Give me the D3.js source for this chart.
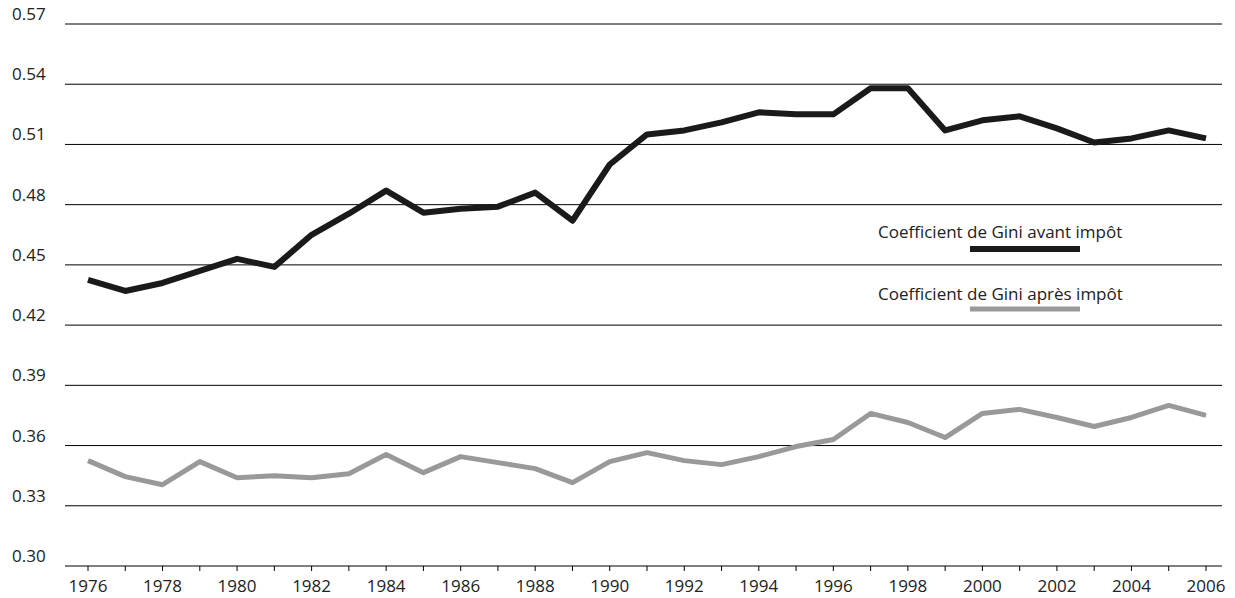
<!DOCTYPE html>
<html><head><meta charset="utf-8">
<script src="https://cdn.jsdelivr.net/npm/d3@7"></script>
<style>body{margin:0;background:#fff}text{font-family:"Open Sans",sans-serif}</style>
</head><body>
<svg id="chart" width="1235" height="598"></svg>
<script>
var years = d3.range(1976, 2007);
var giniAvant = [0.4425,0.437,0.441,0.447,0.453,0.449,0.465,0.4755,0.487,0.476,0.478,0.479,0.486,0.472,0.500,0.515,0.517,0.521,0.526,0.525,0.525,0.538,0.538,0.517,0.522,0.524,0.518,0.511,0.513,0.517,0.513];
var giniApres = [0.3525,0.3445,0.3405,0.352,0.344,0.345,0.344,0.346,0.3555,0.3465,0.3545,0.3515,0.3485,0.3415,0.352,0.3565,0.3525,0.3505,0.3545,0.3595,0.363,0.376,0.3715,0.364,0.376,0.378,0.374,0.3695,0.374,0.380,0.375];
var yTicks = [0.30,0.33,0.36,0.39,0.42,0.45,0.48,0.51,0.54,0.57];
var xTicks = d3.range(1976, 2007, 2);

var svg = d3.select('#chart');
var x = d3.scaleLinear().domain([1976, 2006]).range([88, 1206]);
var y = d3.scaleLinear().domain([0.30, 0.57]).range([566, 24]);

// grid
svg.selectAll('.grid').data(yTicks).enter().append('line')
  .attr('x1', 65).attr('x2', 1222)
  .attr('y1', d => y(d)).attr('y2', d => y(d))
  .attr('stroke', '#000').attr('stroke-width', 1);
svg.selectAll('.yl').data(yTicks).enter().append('text')
  .attr('x', 12).attr('y', d => y(d) - 4)
  .attr('font-size', 17).attr('fill', '#222')
  .text(d => d.toFixed(2));

// x ticks
svg.selectAll('.xt').data(years).enter().append('line')
  .attr('x1', d => x(d)).attr('x2', d => x(d))
  .attr('y1', 566).attr('y2', 571).attr('stroke', '#000');
svg.selectAll('.xl').data(xTicks).enter().append('text')
  .attr('x', d => x(d)).attr('y', 592).attr('text-anchor', 'middle')
  .attr('font-size', 17).attr('fill', '#222').text(d => d);

var line = d3.line().x((d, i) => x(years[i])).y(d => y(d));
svg.append('path').datum(giniApres).attr('d', line)
  .attr('fill', 'none').attr('stroke', '#999').attr('stroke-width', 5).attr('stroke-linejoin', 'round');
svg.append('path').datum(giniAvant).attr('d', line)
  .attr('fill', 'none').attr('stroke', '#1a1a1a').attr('stroke-width', 6).attr('stroke-linejoin', 'round');

// legend
var legend = [
  {label: 'Coefficient de Gini avant impôt', color: '#1a1a1a', ty: 238, ly: 249, w: 6},
  {label: 'Coefficient de Gini après impôt', color: '#999', ty: 300, ly: 309, w: 5}
];
legend.forEach(function(l) {
  svg.append('text').attr('x', 878).attr('y', l.ty).attr('font-size', 17).attr('fill', '#222').text(l.label);
  svg.append('line').attr('x1', 970).attr('x2', 1080).attr('y1', l.ly).attr('y2', l.ly)
    .attr('stroke', l.color).attr('stroke-width', l.w);
});
</script>
</body></html>
